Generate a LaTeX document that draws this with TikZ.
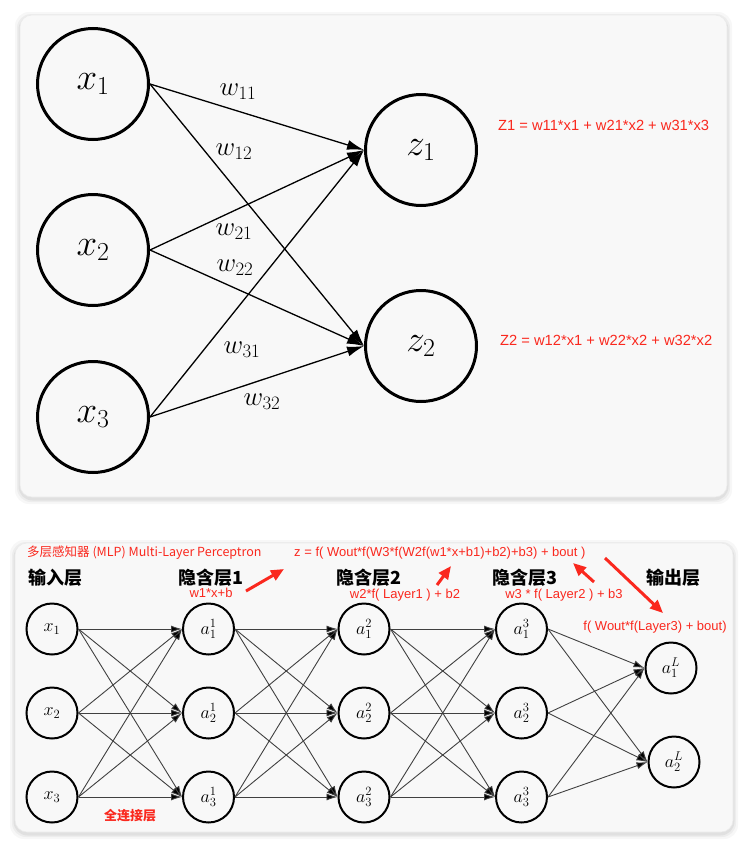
\RequirePackage{fix-cm}
\documentclass[tikz,border=0pt]{standalone}
\usepackage{fontspec}
\usetikzlibrary{arrows.meta}
\newfontfamily\redsans{Liberation Sans}
\newfontfamily\cjk{Noto Sans CJK SC}
\definecolor{redtxt}{RGB}{250,40,30}
\definecolor{panel}{RGB}{248,248,248}
\tikzset{
  panelbox/.style={fill=panel, draw=black!8, line width=0.6pt, rounded corners=12pt},
  bignode/.style={circle, draw=black, line width=3pt, minimum size=111pt, inner sep=0pt, font=\fontsize{37}{42}\selectfont},
  smallnode/.style={circle, draw=black, line width=2pt, minimum size=51pt, inner sep=0pt, font=\fontsize{18}{21}\selectfont},
  bigedge/.style={line width=1.3pt, -{Latex[length=17pt,width=10pt]}},
  smalledge/.style={line width=0.9pt, draw=black!75, -{Latex[length=11pt,width=7pt,fill=black]}},
  wlab/.style={font=\fontsize{27}{30}\selectfont},
  redlab/.style={text=redtxt, font=\redsans\fontsize{14.7}{17}\selectfont, inner sep=0pt},
  redsmall/.style={text=redtxt, font=\redsans\fontsize{13}{15}\selectfont, inner sep=0pt},
  header/.style={font=\cjk\bfseries\fontsize{18}{20}\selectfont, inner sep=0pt},
  redarrow/.style={draw=redtxt, line width=3pt, -{Triangle[length=13pt,width=11pt]}},
}
\begin{document}
\begin{tikzpicture}[x=1pt,y=-1pt]
\useasboundingbox (0,0) rectangle (750,846);
\fill[white] (0,0) rectangle (750,846);
% shadows
\foreach \d/\o in {5/0.03,3/0.04,1.5/0.05}{
  \fill[black, opacity=\o, rounded corners=14pt] (20-\d,15-\d+2) rectangle (727+\d,497+\d+2);
  \fill[black, opacity=\o, rounded corners=14pt] (15-\d,543-\d+2) rectangle (733+\d,832+\d+2);
}
\draw[panelbox] (20,15) rectangle (727,497);
\draw[panelbox] (15,543) rectangle (733,832);

% ---------- top panel ----------
\node[bignode] (x1) at (93,84) {$x_1$};
\node[bignode] (x2) at (93,250) {$x_2$};
\node[bignode] (x3) at (93,417) {$x_3$};
\node[bignode] (z1) at (421,150) {$z_1$};
\node[bignode] (z2) at (421,346) {$z_2$};
\foreach \i in {1,2,3}{
  \draw[bigedge] (x\i.east) -- (z1.west);
  \draw[bigedge] (x\i.east) -- (z2.west);
}
\node[wlab] (w11) at (238,92) {$w_{11}$};
\node[wlab] (w12) at (234,152) {$w_{12}$};
\node[wlab] (w21) at (234,232) {$w_{21}$};
\node[wlab] (w22) at (235,268) {$w_{22}$};
\node[wlab] (w31) at (242,350) {$w_{31}$};
\node[wlab] (w32) at (262,402) {$w_{32}$};
\node[redlab, anchor=west] (eq1) at (498,125) {Z1 = w11*x1 + w21*x2 + w31*x3};
\node[redlab, anchor=west] (eq2) at (500,340) {Z2 = w12*x1 + w22*x2 + w32*x2};

% ---------- bottom panel ----------
\node[smallnode] (i1) at (52,629) {$x_1$};
\node[smallnode] (i2) at (52,713) {$x_2$};
\node[smallnode] (i3) at (52,797) {$x_3$};
\foreach \l/\xx in {1/208.5,2/364,3/521.5}{
  \node[smallnode] (h\l1) at (\xx,629) {$a^{\l}_{1}$};
  \node[smallnode] (h\l2) at (\xx,713) {$a^{\l}_{2}$};
  \node[smallnode] (h\l3) at (\xx,797) {$a^{\l}_{3}$};
}
\node[smallnode] (o1) at (671,668) {$a^{L}_{1}$};
\node[smallnode] (o2) at (674,762) {$a^{L}_{2}$};
\foreach \i in {1,2,3}{
  \foreach \j in {1,2,3}{
    \draw[smalledge] (i\i.east) -- (h1\j.west);
    \draw[smalledge] (h1\i.east) -- (h2\j.west);
    \draw[smalledge] (h2\i.east) -- (h3\j.west);
  }
  \draw[smalledge] (h3\i.east) -- (o1.west);
  \draw[smalledge] (h3\i.east) -- (o2.west);
}
\node[header] (hd0) at (55,578) {输入层};
\node[header] (hd1) at (211,578) {隐含层1};
\node[header] (hd2) at (369,578) {隐含层2};
\node[header] (hd3) at (525,578) {隐含层3};
\node[header] (hd4) at (673,578) {输出层};

\node[redsmall, anchor=west, font=\cjk\fontsize{12.5}{14}\selectfont] (mlp) at (27,553) {多层感知器 (MLP) Multi-Layer Perceptron};
\node[redsmall, anchor=west] (zf) at (294,553) {z = f( Wout*f(W3*f(W2f(w1*x+b1)+b2)+b3) + bout )};
\node[redsmall] (l1) at (211,593) {w1*x+b};
\node[redsmall] (l2) at (405,595) {w2*f( Layer1 ) + b2};
\node[redsmall] (l3) at (564,595) {w3 * f( Layer2 ) + b3};
\node[redsmall] (l4) at (655,627) {f( Wout*f(Layer3) + bout)};
\node[text=redtxt, font=\cjk\bfseries\fontsize{13}{15}\selectfont, inner sep=0pt] (fc) at (130,816) {全连接层};

\coordinate (a1s) at (246,591); \coordinate (a1e) at (284,569);
\coordinate (a2s) at (437,585); \coordinate (a2e) at (451,566);
\coordinate (a3s) at (594,582); \coordinate (a3e) at (573,563);
\coordinate (a4s) at (605,558); \coordinate (a4e) at (663,613);
\draw[redarrow] (a1s) -- (a1e);
\draw[redarrow] (a2s) -- (a2e);
\draw[redarrow] (a3s) -- (a3e);
\draw[redarrow] (a4s) -- (a4e);
\end{tikzpicture}
\end{document}
